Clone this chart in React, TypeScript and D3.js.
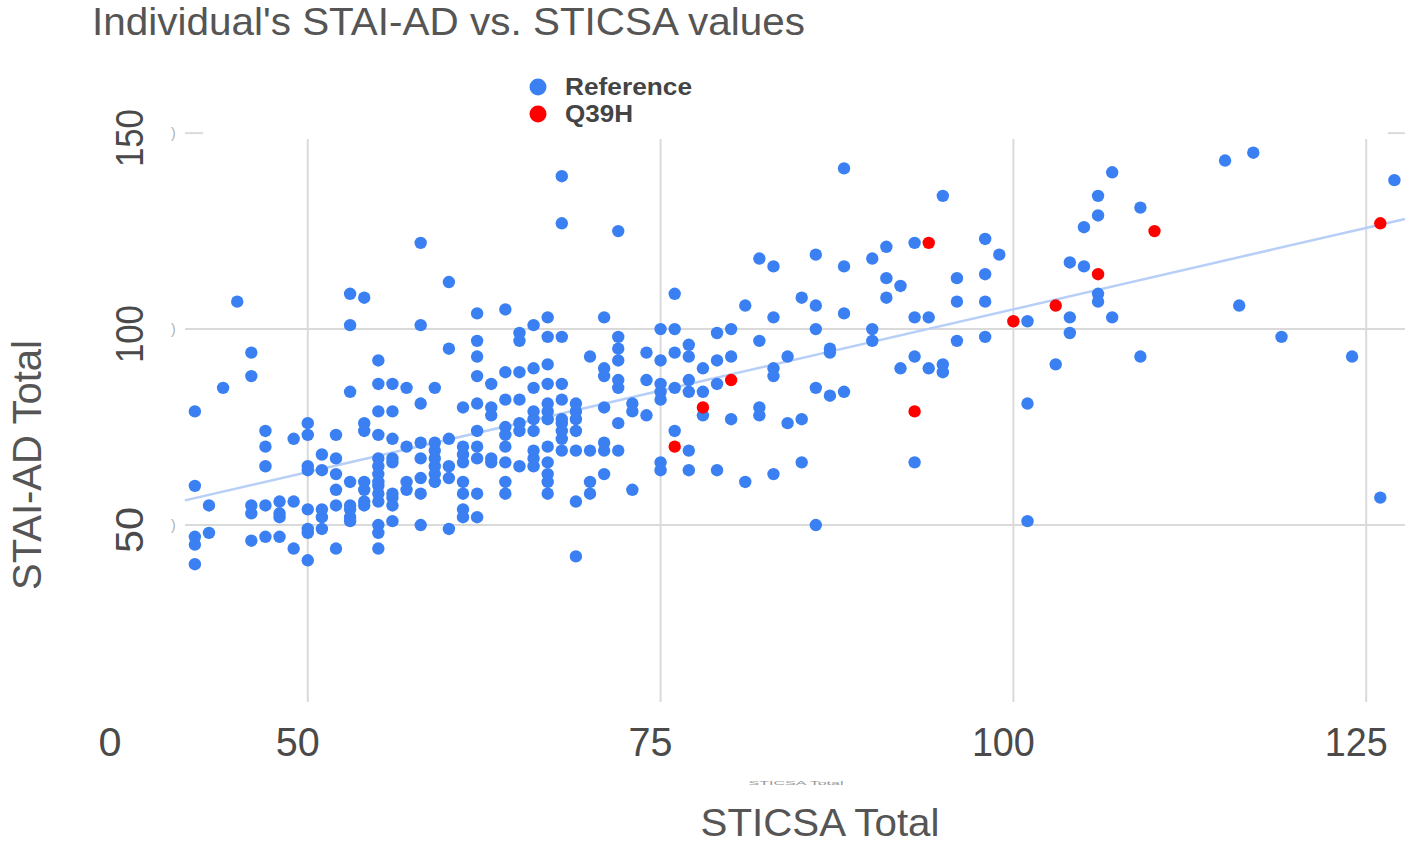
import React, { useEffect, useRef } from 'react';
import * as d3 from 'd3';

// [STICSA total, STAI-AD total]
const referencePoints: [number, number][] = [
    [42, 79], [42, 60], [42, 47], [42, 45], [42, 40], [43, 55], [43, 48], [44, 85],
    [45, 107], [46, 94], [46, 88], [46, 55], [46, 53], [46, 46],
    [47, 74], [47, 70], [47, 65], [47, 55], [47, 47],
    [48, 56], [48, 53], [48, 52], [48, 47], [49, 72], [49, 56], [49, 44],
    [50, 76], [50, 73], [50, 65], [50, 64], [50, 54], [50, 49], [50, 48], [50, 41],
    [51, 68], [51, 64], [51, 54], [51, 52], [51, 49],
    [52, 73], [52, 67], [52, 63], [52, 59], [52, 55], [52, 44],
    [53, 109], [53, 101], [53, 84], [53, 61], [53, 55], [53, 54], [53, 52], [53, 51],
    [54, 108], [54, 76], [54, 74], [54, 61], [54, 59], [54, 56], [54, 55],
    [55, 92], [55, 86], [55, 79], [55, 73], [55, 67], [55, 65], [55, 63], [55, 61], [55, 60],
    [55, 58], [55, 56], [55, 50], [55, 48], [55, 44],
    [56, 86], [56, 79], [56, 72], [56, 67], [56, 66], [56, 58], [56, 57], [56, 55], [56, 51],
    [57, 85], [57, 70], [57, 61], [57, 59],
    [58, 122], [58, 101], [58, 81], [58, 71], [58, 67], [58, 62], [58, 58], [58, 50],
    [59, 85], [59, 71], [59, 69], [59, 67], [59, 65], [59, 63], [59, 61],
    [60, 112], [60, 95], [60, 72], [60, 65], [60, 62], [60, 49],
    [61, 80], [61, 70], [61, 68], [61, 66], [61, 61], [61, 58], [61, 54], [61, 52],
    [62, 104], [62, 97], [62, 93], [62, 88], [62, 81], [62, 74], [62, 70], [62, 67], [62, 58], [62, 52],
    [63, 86], [63, 80], [63, 78], [63, 67], [63, 66],
    [64, 105], [64, 89], [64, 82], [64, 75], [64, 73], [64, 70], [64, 66], [64, 61], [64, 58],
    [65, 99], [65, 97], [65, 89], [65, 82], [65, 76], [65, 74], [65, 65],
    [66, 101], [66, 90], [66, 85], [66, 79], [66, 77], [66, 74], [66, 69], [66, 67], [66, 65],
    [67, 103], [67, 98], [67, 91], [67, 86], [67, 81], [67, 79], [67, 77], [67, 70], [67, 66],
    [67, 63], [67, 61], [67, 58],
    [68, 139], [68, 127], [68, 98], [68, 86], [68, 82], [68, 77], [68, 76], [68, 74], [68, 72], [68, 69],
    [69, 81], [69, 79], [69, 77], [69, 74], [69, 69], [69, 56], [69, 42],
    [70, 93], [70, 69], [70, 61], [70, 58],
    [71, 103], [71, 90], [71, 88], [71, 80], [71, 71], [71, 69], [71, 63],
    [72, 125], [72, 98], [72, 95], [72, 92], [72, 87], [72, 85], [72, 76], [72, 69],
    [73, 81], [73, 79], [73, 59],
    [74, 94], [74, 87], [74, 78],
    [75, 100], [75, 92], [75, 86], [75, 84], [75, 82], [75, 66], [75, 64],
    [76, 109], [76, 100], [76, 94], [76, 85], [76, 74],
    [77, 96], [77, 93], [77, 87], [77, 84], [77, 69], [77, 64],
    [78, 90], [78, 84], [78, 78],
    [79, 99], [79, 92], [79, 86], [79, 64],
    [80, 100], [80, 93], [80, 77],
    [81, 106], [81, 61],
    [82, 118], [82, 97], [82, 80], [82, 78],
    [83, 116], [83, 103], [83, 90], [83, 88], [83, 63],
    [84, 93], [84, 76], [85, 108], [85, 77], [85, 66],
    [86, 119], [86, 106], [86, 100], [86, 85], [86, 50],
    [87, 95], [87, 94], [87, 83], [88, 141], [88, 116], [88, 104], [88, 84],
    [90, 118], [90, 100], [90, 97], [91, 121], [91, 113], [91, 108], [92, 111], [92, 90],
    [93, 122], [93, 103], [93, 93], [93, 66], [94, 103], [94, 90], [95, 134], [95, 91], [95, 89],
    [96, 113], [96, 107], [96, 97], [98, 123], [98, 114], [98, 107], [98, 98], [99, 119],
    [101, 102], [101, 81], [101, 51], [103, 91], [104, 117], [104, 103], [104, 99],
    [105, 126], [105, 116], [106, 134], [106, 129], [106, 109], [106, 107],
    [107, 140], [107, 103], [109, 131], [109, 93], [115, 143], [116, 106], [117, 145],
    [119, 98], [124, 93], [126, 57], [127, 138],
];

const q39hPoints: [number, number][] = [
    [76, 70], [78, 80], [80, 87], [93, 79], [94, 122],
    [100, 102], [103, 106], [106, 114], [110, 125], [126, 127],
];

// trend line end points, clipped to the plot area
const trendX = [41.3, 127.75];
const trendY = [56.3, 128.1];

const xTicks = [50, 75, 100, 125];
const yTicks = [50, 100, 150];
const seriesNames = ['Reference', 'Q39H'];
const seriesColors = ['#3b80f2', '#ff0000'];

const WIDTH = 1418;
const HEIGHT = 851;
const plot = { left: 185, right: 1405, top: 139, bottom: 702 };
const font = 'Arial, "Liberation Sans", sans-serif';

const App: React.FC = () => {
    const svgRef = useRef<SVGSVGElement>(null);

    useEffect(() => {
        if (!svgRef.current) return;

        const svg = d3.select(svgRef.current);
        svg.selectAll('*').remove();

        const xScale = d3.scaleLinear().domain([41.3, 127.75]).range([plot.left, plot.right]);
        const yScale = d3.scaleLinear().domain([4.85, 148.5]).range([plot.bottom, plot.top]);

        // title
        svg.append('text')
            .attr('x', 92)
            .attr('y', 35)
            .attr('font-size', 39)
            .attr('fill', '#555')
            .attr('textLength', 713)
            .attr('lengthAdjust', 'spacingAndGlyphs')
            .text("Individual's STAI-AD vs. STICSA values");

        // gridlines
        const grid = svg.append('g').attr('stroke', '#dadada').attr('stroke-width', 2);
        grid.selectAll('line.v')
            .data(xTicks)
            .join('line')
            .attr('class', 'v')
            .attr('x1', d => xScale(d))
            .attr('x2', d => xScale(d))
            .attr('y1', plot.top)
            .attr('y2', plot.bottom);

        const inside = yTicks.filter(v => yScale(v) >= plot.top);
        const outside = yTicks.filter(v => yScale(v) < plot.top);
        grid.selectAll('line.h')
            .data(inside)
            .join('line')
            .attr('class', 'h')
            .attr('x1', plot.left)
            .attr('x2', plot.right)
            .attr('y1', d => yScale(d))
            .attr('y2', d => yScale(d));
        // top gridline only shows as stubs at both ends
        outside.forEach(v => {
            grid.append('line').attr('x1', plot.left).attr('x2', plot.left + 18)
                .attr('y1', yScale(v)).attr('y2', yScale(v));
            grid.append('line').attr('x1', plot.right - 17).attr('x2', plot.right)
                .attr('y1', yScale(v)).attr('y2', yScale(v));
        });

        // little clipped tick marks
        svg.append('g')
            .selectAll('text')
            .data(yTicks)
            .join('text')
            .attr('x', plot.left - 14)
            .attr('y', d => yScale(d) + 5)
            .attr('font-size', 14)
            .attr('fill', '#b0b0b0')
            .text(')');

        // y tick labels (rotated)
        svg.append('g')
            .selectAll('text')
            .data(yTicks)
            .join('text')
            .attr('transform', d => `translate(143,${yScale(d) + 5}) rotate(-90)`)
            .attr('text-anchor', 'middle')
            .attr('font-size', 39)
            .attr('fill', '#4a4a4a')
            .attr('textLength', d => (String(d).length === 3 ? 58 : 46))
            .attr('lengthAdjust', 'spacingAndGlyphs')
            .text(d => String(d));

        // x tick labels
        svg.append('g')
            .selectAll('text')
            .data(xTicks)
            .join('text')
            .attr('x', d => xScale(d) - 10)
            .attr('y', 756)
            .attr('text-anchor', 'middle')
            .attr('font-size', 40)
            .attr('fill', '#4a4a4a')
            .attr('textLength', d => (String(d).length === 3 ? 63 : 44))
            .attr('lengthAdjust', 'spacingAndGlyphs')
            .text(d => String(d));
        svg.append('text')
            .attr('x', plot.left - 75)
            .attr('y', 756)
            .attr('text-anchor', 'middle')
            .attr('font-size', 40)
            .attr('fill', '#4a4a4a')
            .attr('textLength', 23)
            .attr('lengthAdjust', 'spacingAndGlyphs')
            .text('0');

        // axis titles
        svg.append('text')
            .attr('x', 796)
            .attr('y', 785)
            .attr('text-anchor', 'middle')
            .attr('font-size', 5)
            .attr('fill', '#999')
            .attr('textLength', 95)
            .attr('lengthAdjust', 'spacingAndGlyphs')
            .text('STICSA Total');
        svg.append('text')
            .attr('x', 820)
            .attr('y', 836)
            .attr('text-anchor', 'middle')
            .attr('font-size', 39)
            .attr('fill', '#555')
            .attr('textLength', 239)
            .attr('lengthAdjust', 'spacingAndGlyphs')
            .text('STICSA Total');
        svg.append('text')
            .attr('transform', 'translate(41,465) rotate(-90)')
            .attr('text-anchor', 'middle')
            .attr('font-size', 40)
            .attr('fill', '#555')
            .attr('textLength', 250)
            .attr('lengthAdjust', 'spacingAndGlyphs')
            .text('STAI-AD Total');

        // trend line
        const line = d3.line<number>()
            .x(d => xScale(d))
            .y((_, i) => yScale(trendY[i]));
        svg.append('path')
            .datum(trendX)
            .attr('d', line)
            .attr('fill', 'none')
            .attr('stroke', '#b7cff7')
            .attr('stroke-width', 2.5);

        // points
        const series = [referencePoints, q39hPoints];
        series.forEach((pts, si) => {
            svg.append('g')
                .selectAll('circle')
                .data(pts)
                .join('circle')
                .attr('cx', d => xScale(d[0]))
                .attr('cy', d => yScale(d[1]))
                .attr('r', 6.2)
                .attr('fill', seriesColors[si]);
        });

        // legend
        const legend = svg.append('g');
        seriesNames.forEach((name, i) => {
            const cy = 87 + i * 27;
            legend.append('circle')
                .attr('cx', 538)
                .attr('cy', cy)
                .attr('r', 8.5)
                .attr('fill', seriesColors[i]);
            legend.append('text')
                .attr('x', 565)
                .attr('y', cy + 8)
                .attr('font-size', 24)
                .attr('font-weight', 'bold')
                .attr('fill', '#444')
                .attr('textLength', name.length > 4 ? 127 : 68)
                .attr('lengthAdjust', 'spacingAndGlyphs')
                .text(name);
        });
    }, []);

    return (
        <svg
            ref={svgRef}
            width={WIDTH}
            height={HEIGHT}
            style={{ position: 'absolute', left: 0, top: 0, background: '#fff', fontFamily: font }}
        />
    );
};

export default App;
